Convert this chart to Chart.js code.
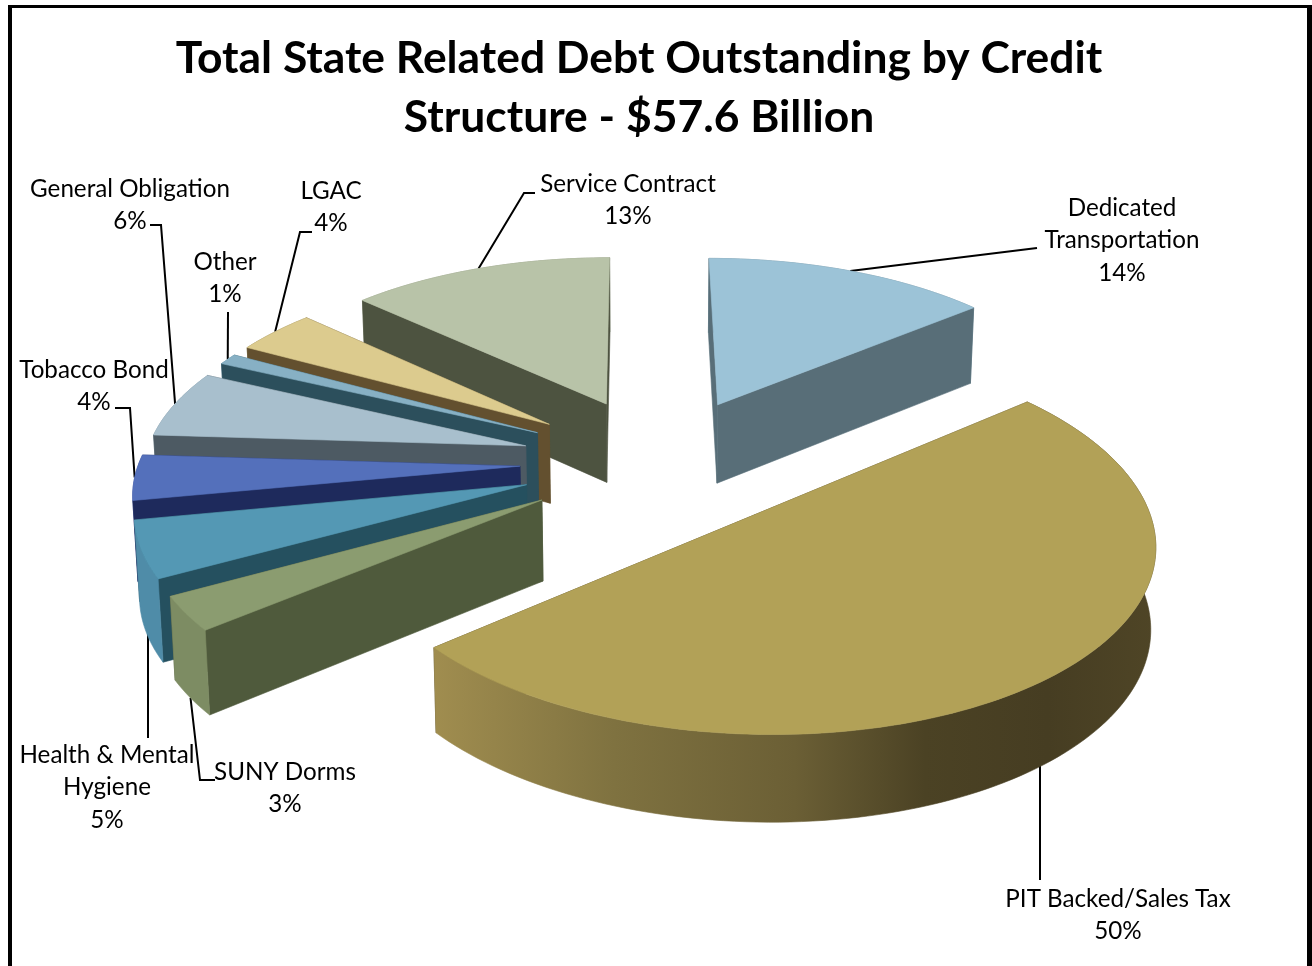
<!DOCTYPE html>
<html lang="en">
<head>
  <meta charset="UTF-8" />
  <title>Total State Related Debt Outstanding by Credit Structure</title>
  <script src="https://cdn.jsdelivr.net/npm/chart.js"></script>
  <style>
    html, body { margin: 0; padding: 0; background: #fff; overflow: hidden; }
    #wrap { position: relative; width: 1312px; height: 966px; }
    #frame { position: absolute; left: 8px; top: 5px; right: 0; bottom: 0;
             border: solid #000; border-width: 3px 5px 0 4px; pointer-events: none; }
  </style>
</head>
<body>
  <div id="wrap">
    <canvas id="debtChart" width="1312" height="966"></canvas>
    <div id="frame"></div>
  </div>

  <script>
    const categories = [
      ['Dedicated', 'Transportation'],
      ['PIT Backed/Sales Tax'],
      ['SUNY Dorms'],
      ['Health & Mental', 'Hygiene'],
      ['Tobacco Bond'],
      ['General Obligation'],
      ['Other'],
      ['LGAC'],
      ['Service Contract']
    ];
    const shares = [14, 50, 3, 5, 4, 6, 1, 4, 13];

    const topColors = ['#9cc3d7', '#b2a157', '#8b9c70', '#5498b4', '#5470bb', '#a8bfcd', '#87b0c4', '#dccb8e', '#b8c3a8'];
    const radialColors = ['#586e78', '#4b4224', '#4f5a3c', '#25505f', '#1e2a5c', '#4d5a63', '#2c4f5c', '#63502f', '#4d5340'];
    const wallColors = ['#6f8c99', null, '#7d8c63', '#4f8ca8', '#3c4f9a', '#7f95a3', '#6a93a6', '#8a7a4a', '#8c957c'];
    const pitWallStops = [[0, '#a08d4f'], [0.25, '#7f7240'], [0.5, '#6b5f35'], [0.68, '#4b4224'], [0.85, '#463d22'], [1, '#4f4526']];

    // where each label sits: centre x, first line y
    const labelSpots = [[1122, 208], [1118, 899], [285, 772], [107, 755], [94, 370], [130, 189], [225, 262], [331, 191], [628, 184]];
    // leader line bends, walking from the slice out to the label
    const leaderBends = [
      [[1037, 248]],
      [[1040, 880]],
      [[200, 780], [215, 780]],
      [[148, 738]],
      [[130, 408], [115, 408]],
      [[161, 225], [150, 225]],
      [[228, 312]],
      [[300, 232], [312, 232]],
      [[524, 193], [535, 193]]
    ];
    // these leaders start from the lower rim instead of the top face
    const leaderFromBase = [false, true, true, true, false, false, false, false, false];
    // and these drop straight down from it
    const leaderPlumb = [false, true, false, true, false, false, false, false, false];

    // flat pie plane -> tilted view
    const view = { x0: 661, y0: 462, a: 381, skew: 3, b: 178, persp: 0.125, depth: 80, vanishX: 650, squeeze: 0.99 };

    function project(u, v) {
      const f = 1 / (1 - view.persp * v);
      return { x: view.x0 + (view.a * u + view.skew * v) * f, y: view.y0 + view.b * v * f, f };
    }

    function lower(p) {
      return { x: view.vanishX + (p.x - view.vanishX) * view.squeeze, y: p.y + view.depth * (0.5 + 0.5 * p.f) };
    }

    function sliceShape(arc) {
      const { startAngle, endAngle, outerRadius } = arc.getProps(['startAngle', 'endAngle', 'outerRadius'], true);
      const mid = (startAngle + endAngle) / 2;
      const ox = Math.cos(mid) * arc.options.offset / outerRadius;
      const oy = Math.sin(mid) * arc.options.offset / outerRadius;
      const steps = Math.max(6, Math.ceil((endAngle - startAngle) * 40));
      const rim = [];
      for (let i = 0; i <= steps; i++) {
        const t = startAngle + (endAngle - startAngle) * i / steps;
        rim.push(project(ox + Math.cos(t), oy + Math.sin(t)));
      }
      const tip = project(ox, oy);
      const midRim = project(ox + Math.cos(mid), oy + Math.sin(mid));
      return { tip, rim, midRim };
    }

    function fillPoly(ctx, points, fill) {
      ctx.beginPath();
      points.forEach((p, i) => (i ? ctx.lineTo(p.x, p.y) : ctx.moveTo(p.x, p.y)));
      ctx.closePath();
      ctx.fillStyle = fill;
      ctx.strokeStyle = fill;
      ctx.lineWidth = 0.6;
      ctx.fill();
      ctx.stroke();
    }

    function avgY(points) {
      return points.reduce((s, p) => s + p.y, 0) / points.length;
    }

    function drawSlice(ctx, shape, i, topColor) {
      const { tip, rim } = shape;
      const first = rim[0];
      const last = rim[rim.length - 1];
      let wallFill = wallColors[i];
      if (!wallFill) {
        const xs = rim.map(p => p.x);
        const grad = ctx.createLinearGradient(Math.min(...xs), 0, Math.max(...xs), 0);
        pitWallStops.forEach(s => grad.addColorStop(s[0], s[1]));
        wallFill = grad;
      }
      const faces = [
        { pts: [tip, first, lower(first), lower(tip)], fill: radialColors[i] },
        { pts: [tip, last, lower(last), lower(tip)], fill: radialColors[i] },
        { pts: rim.concat(rim.slice().reverse().map(lower)), fill: wallFill }
      ];
      faces.sort((a, b) => avgY(a.pts) - avgY(b.pts));
      faces.forEach(face => fillPoly(ctx, face.pts, face.fill));
      fillPoly(ctx, [tip].concat(rim), topColor);
    }

    function drawLeaders(ctx, shapes) {
      ctx.strokeStyle = '#000';
      ctx.lineWidth = 2;
      shapes.forEach((shape, i) => {
        const start = leaderFromBase[i] ? lower(shape.midRim) : shape.midRim;
        ctx.beginPath();
        // start a little inside the slice, the slice is painted over it
        ctx.moveTo(leaderPlumb[i] ? leaderBends[i][0][0] : start.x, start.y - (leaderPlumb[i] ? 12 : 0));
        leaderBends[i].forEach(p => ctx.lineTo(p[0], p[1]));
        ctx.stroke();
      });
    }

    const tiltedPie = {
      id: 'tiltedPie',
      beforeDatasetDraw(chart) {
        const ctx = chart.ctx;
        const arcs = chart.getDatasetMeta(0).data;
        const shapes = arcs.map(sliceShape);
        ctx.save();
        drawLeaders(ctx, shapes);
        arcs.map((arc, i) => i)
          .sort((a, b) => shapes[a].tip.y - shapes[b].tip.y)
          .forEach(i => drawSlice(ctx, shapes[i], i, arcs[i].options.backgroundColor));
        ctx.restore();
        return false;
      },
      afterDraw(chart) {
        const ctx = chart.ctx;
        ctx.save();
        ctx.fillStyle = '#000';
        ctx.font = '24.2px Lato';
        ctx.textAlign = 'center';
        ctx.textBaseline = 'middle';
        categories.forEach((lines, i) => {
          const [x, y] = labelSpots[i];
          lines.concat(shares[i] + '%').forEach((line, n) => ctx.fillText(line, x, y + n * 32.6));
        });
        ctx.restore();
      }
    };

    new Chart(document.getElementById('debtChart'), {
      type: 'pie',
      data: {
        labels: categories.map(c => c.join(' ')),
        datasets: [{
          data: shares,
          backgroundColor: topColors,
          borderWidth: 0,
          offset: 111
        }]
      },
      options: {
        responsive: false,
        animation: false,
        radius: 300,
        layout: { padding: { right: 34, top: 30 } },
        plugins: {
          legend: { display: false },
          tooltip: { enabled: false },
          title: {
            display: true,
            text: ['Total State Related Debt Outstanding by Credit', 'Structure - $57.6 Billion'],
            color: '#000',
            font: { family: 'Lato', size: 44.4, weight: 'bold', lineHeight: 1.31 },
            padding: 0
          }
        }
      },
      plugins: [tiltedPie]
    });
  </script>
</body>
</html>
